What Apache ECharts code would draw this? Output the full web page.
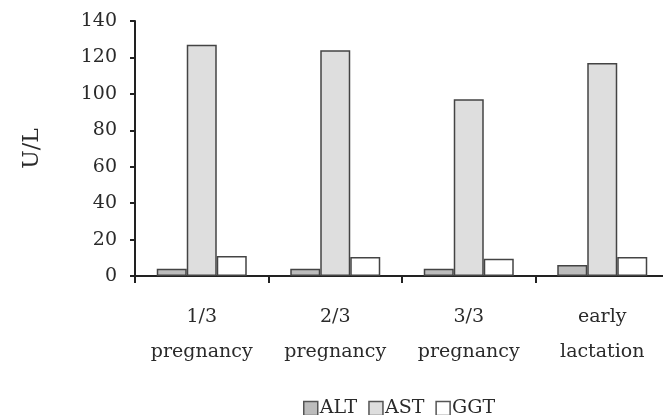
<!DOCTYPE html>
<html>
<head>
<meta charset="utf-8">
<script src="https://cdn.jsdelivr.net/npm/echarts@6/dist/echarts.min.js"></script>
<style>
html,body{margin:0;padding:0;background:#fff;}
#main{width:663px;height:415px;}
</style>
</head>
<body>
<div id="main"></div>
<script>
var categories = ['1/3\npregnancy', '2/3\npregnancy', '3/3\npregnancy', 'early\nlactation'];
var altValues = [4, 4, 4, 6];
var astValues = [127, 124, 97, 117];
var ggtValues = [11, 10.5, 9.5, 10.5];
var seriesNames = ['ALT', 'AST', 'GGT'];
var yTicks = { min: 0, max: 140, interval: 20 };

var font = 'DejaVu Serif';
var chart = echarts.init(document.getElementById('main'));
function barStyle(color) {
  return { color: color, borderColor: '#444', borderWidth: 1.5 };
}
chart.setOption({
  animation: false,
  grid: { left: 135, width: 534, top: 21, bottom: 139, containLabel: false, outerBoundsMode: 'none' },
  legend: {
    left: 298, top: 394,
    itemWidth: 14, itemHeight: 14, itemGap: 11,
    icon: 'rect',
    textStyle: { fontFamily: font, fontSize: 19, color: '#2a2a2a', padding: [0, 0, 0, -3] },
    data: seriesNames.map(function (n, i) {
      return { name: n, itemStyle: { borderColor: '#555', borderWidth: 1.5 } };
    })
  },
  xAxis: {
    type: 'category',
    data: categories,
    axisLine: { lineStyle: { color: '#222', width: 2 } },
    axisTick: { show: true, interval: 0, length: 7, inside: false, lineStyle: { color: '#222', width: 2 } },
    axisLabel: { interval: 0, fontFamily: font, fontSize: 19, color: '#2a2a2a', lineHeight: 35, margin: 24 }
  },
  yAxis: {
    type: 'value',
    min: yTicks.min, max: yTicks.max, interval: yTicks.interval,
    name: 'U/L', nameLocation: 'middle', nameGap: 92, nameRotate: 90,
    nameTextStyle: { fontFamily: font, fontSize: 22, color: '#2a2a2a' },
    axisLine: { show: true, lineStyle: { color: '#222', width: 2 } },
    axisTick: { show: true, length: 5, lineStyle: { color: '#222', width: 2 } },
    splitLine: { show: false },
    axisLabel: { fontFamily: font, fontSize: 19, color: '#2a2a2a', margin: 18 }
  },
  series: [
    { name: seriesNames[0], type: 'bar', data: altValues, barWidth: 30, barGap: '0%', itemStyle: barStyle('#bcbcbc') },
    { name: seriesNames[1], type: 'bar', data: astValues, barWidth: 30, barGap: '0%', itemStyle: barStyle('#dedede') },
    { name: seriesNames[2], type: 'bar', data: ggtValues, barWidth: 30, barGap: '0%', itemStyle: barStyle('#ffffff') }
  ]
});
</script>
</body>
</html>
